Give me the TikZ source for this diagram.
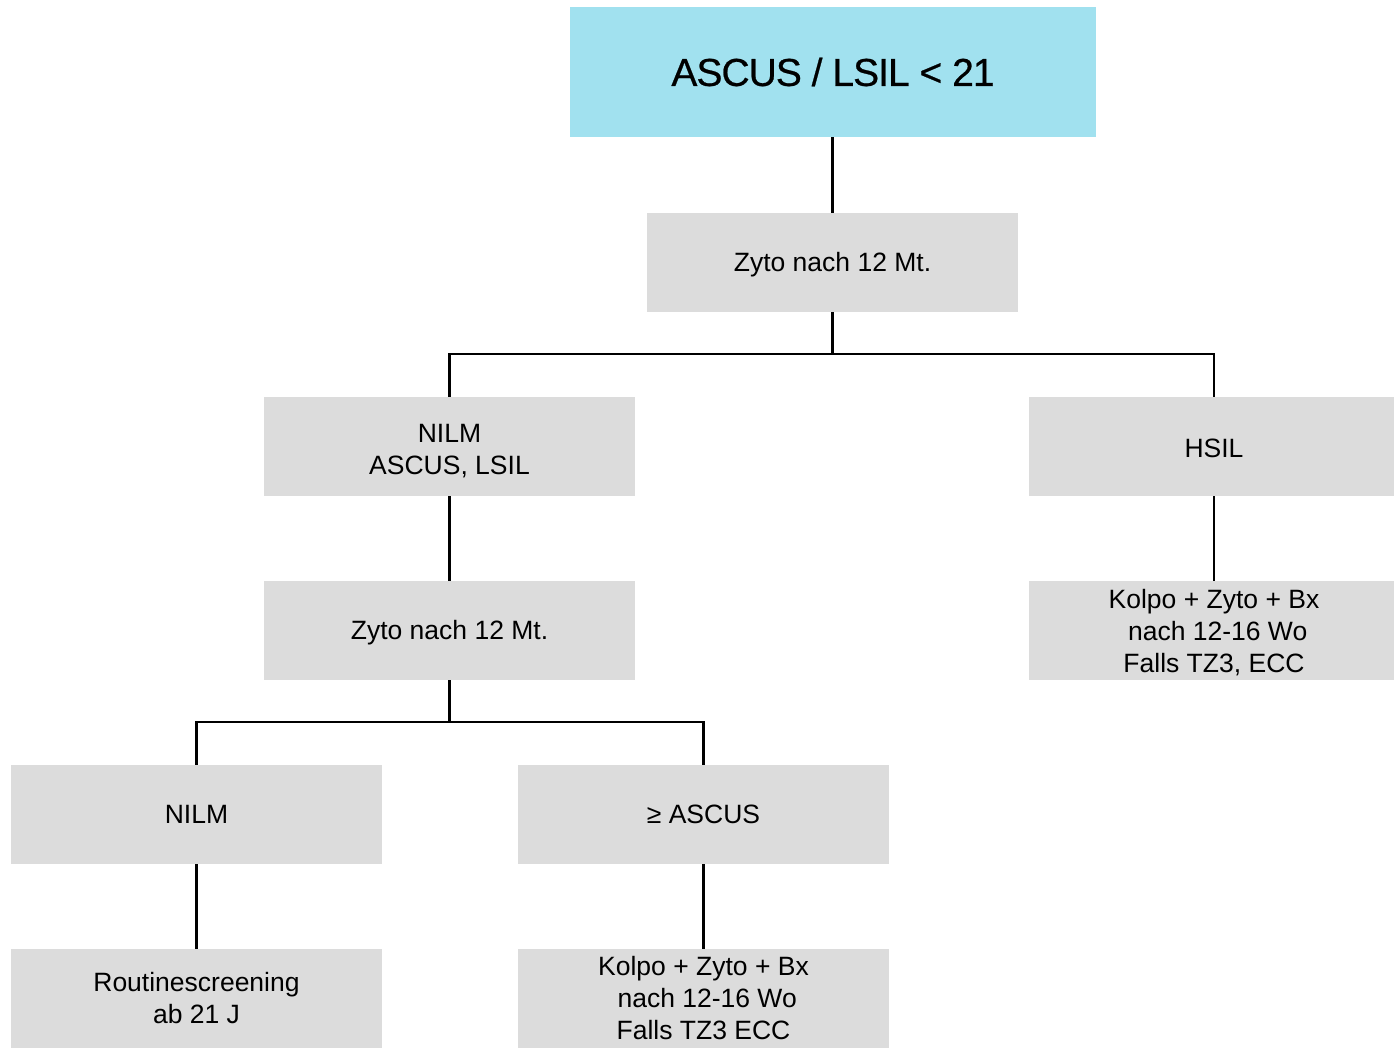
\documentclass[tikz,border=0pt]{standalone}
\usepackage{fontspec}
\setmainfont{Liberation Sans}
\newfontfamily\headfont[FakeBold=0.6, LetterSpace=-2.5]{Liberation Sans}
\definecolor{boxgray}{HTML}{DCDCDC}
\definecolor{headcyan}{HTML}{A1E1EF}
% strut that sets a one-line label a little lower in its box
\newcommand\lowstrut{\rule{0pt}{23pt}}
\begin{document}
\begin{tikzpicture}[x=1pt,y=-1pt,
  stepbox/.style={fill=boxgray, inner sep=0pt, minimum width=371pt, minimum height=99pt,
    align=center, font=\fontsize{26.5}{32}\selectfont},
  headbox/.style={fill=headcyan, inner sep=0pt, minimum width=526pt, minimum height=130pt,
    align=center, font=\headfont\fontsize{39}{47}\selectfont},
  link/.style={draw=black, line width=2.6pt}]
\useasboundingbox (0,0) rectangle (1394,1049);
\begin{scope}
\clip (0,0) rectangle (1394,1049);
% boxes
\node[headbox] (top) at (833,72) {ASCUS / LSIL < 21};
\node[stepbox] (z1) at (832.5,262.5) {\lowstrut Zyto nach 12 Mt.};
\node[stepbox] (nl1) at (449.5,446.5) {\rule{0pt}{28pt}NILM\\ASCUS, LSIL};
\node[stepbox, minimum width=370pt] (hsil) at (1214,446.5) {\lowstrut HSIL};
\node[stepbox] (z2) at (449.5,630.5) {\lowstrut Zyto nach 12 Mt.};
\node[stepbox, minimum width=370pt] (kr) at (1214,630.5) {\rule{0pt}{24pt}Kolpo + Zyto + Bx\\\ nach 12-16 Wo\\Falls TZ3, ECC};
\node[stepbox] (nl2) at (196.5,814.5) {NILM};
\node[stepbox] (asc) at (703.5,814.5) {≥ ASCUS};
\node[stepbox] (rs) at (196.5,998.5) {Routinescreening\\ab 21 J};
\node[stepbox] (kb) at (703.5,998.5) {Kolpo + Zyto + Bx\\\ nach 12-16 Wo\\Falls TZ3 ECC};
% junction points of the branches
\coordinate (j1) at (832.5,354);
\coordinate (j2) at (449.5,722);
% connectors
\draw[link] (top.south -| z1.north) -- (z1.north);
\draw[link] (z1.south) -- (j1);
\draw[link] (nl1.north) -- (nl1.north |- j1) -- (hsil.north |- j1) -- (hsil.north);
\draw[link] (hsil.south) -- (kr.north);
\draw[link] (nl1.south) -- (z2.north);
\draw[link] (z2.south) -- (j2);
\draw[link] (nl2.north) -- (nl2.north |- j2) -- (asc.north |- j2) -- (asc.north);
\draw[link] (nl2.south) -- (rs.north);
\draw[link] (asc.south) -- (kb.north);
\end{scope}
\end{tikzpicture}
\end{document}
